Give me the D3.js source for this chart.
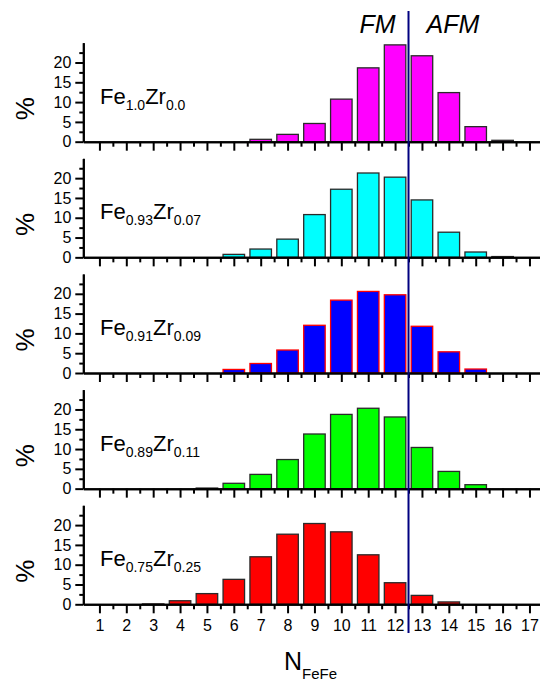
<!DOCTYPE html>
<html>
<head>
<meta charset="utf-8">
<script src="https://cdn.jsdelivr.net/npm/d3@7/dist/d3.min.js"></script>
<style>
  html, body { margin: 0; padding: 0; background: #fff; }
  svg { display: block; font-family: "Liberation Sans", Arial, sans-serif; }
</style>
</head>
<body>
<svg id="chart" width="540" height="681"></svg>
<script>
// ---- data ----
const nValues = [1,2,3,4,5,6,7,8,9,10,11,12,13,14,15,16,17];
const xTickLabels = ["1","2","3","4","5","6","7","8","9","10","11","12","13","14","15","16","17"];
const yTickValues = [0,5,10,15,20];
const yMinorTicks = [2.5,7.5,12.5,17.5,22.5];

const feSub = ["1.0","0.93","0.91","0.89","0.75"];
const zrSub = ["0.0","0.07","0.09","0.11","0.25"];

const seriesFe100 = [0,0,0,0,0,0,0.6,1.85,4.6,10.75,18.65,24.45,21.7,12.4,3.8,0.35,0];
const seriesFe093 = [0,0,0,0,0,0.75,2.1,4.6,10.8,17.2,21.3,20.25,14.5,6.35,1.35,0.2,0];
const seriesFe091 = [0,0,0,0,0,0.9,2.4,5.8,12.05,18.4,20.6,19.75,11.8,5.35,1.0,0,0];
const seriesFe089 = [0,0,0,0,0.15,1.35,3.6,7.35,13.8,18.75,20.3,18.1,10.4,4.35,1.0,0,0];
const seriesFe075 = [0,0,0.1,0.9,2.7,6.3,12.0,17.7,20.4,18.3,12.5,5.45,2.25,0.6,0,0,0];

const seriesList = [seriesFe100, seriesFe093, seriesFe091, seriesFe089, seriesFe075];
const fillColors = ["#ff00ff","#00ffff","#0000ff","#00ff00","#ff0000"];
const strokeColors = ["#2a2a2a","#2a2a2a","#ff0000","#2a2a2a","#2a2a2a"];
const boundary = 12.5;

// ---- layout ----
const svg = d3.select("#chart");
const x = d3.scaleLinear().domain([0.4, 17.5]).range([83.3, 542.9]);
const panelZero = 141.7, panelStep = 115.65, panelH = 99;
const barHalf = 0.4;

seriesList.forEach((vals, i) => {
  const y0 = panelZero + i * panelStep;
  const y = d3.scaleLinear().domain([0, 25]).range([y0, y0 - panelH]);
  const g = svg.append("g");

  // bars
  g.selectAll("rect.bar")
    .data(vals.map((v, k) => ({n: nValues[k], v})).filter(d => d.v > 0))
    .join("rect")
    .attr("class", "bar")
    .attr("x", d => x(d.n - barHalf))
    .attr("width", d => x(d.n + barHalf) - x(d.n - barHalf))
    .attr("y", d => y(d.v))
    .attr("height", d => y(0) - y(d.v))
    .attr("fill", fillColors[i])
    .attr("stroke", strokeColors[i])
    .attr("stroke-width", 1.3);

  // x axis major
  g.append("g").attr("transform", `translate(0,${y0})`)
    .call(d3.axisBottom(x).tickValues(nValues).tickSize(9).tickSizeOuter(0).tickPadding(6)
      .tickFormat(i === seriesList.length - 1 ? ((d, k) => xTickLabels[k]) : ""));
  // x axis minor
  g.append("g").attr("transform", `translate(0,${y0})`)
    .call(d3.axisBottom(x).tickValues(nValues.map(n => n + 0.5).filter(v => v <= 17.5)).tickSize(5).tickSizeOuter(0).tickFormat(""));

  // y axis major
  g.append("g").attr("transform", `translate(${x(0.4)},0)`)
    .call(d3.axisLeft(y).tickValues(yTickValues).tickSize(8).tickSizeOuter(0).tickPadding(4));
  // y axis minor
  g.append("g").attr("transform", `translate(${x(0.4)},0)`)
    .call(d3.axisLeft(y).tickValues(yMinorTicks).tickSize(4).tickSizeOuter(0).tickFormat(""));

  // % label
  g.append("text")
    .attr("transform", `translate(34,${y0 - 33}) rotate(-90)`)
    .attr("text-anchor", "middle")
    .attr("font-size", 26)
    .text("%");

  // composition label
  const t = g.append("text")
    .attr("x", 100)
    .attr("y", y0 - 38)
    .attr("font-size", 22);
  t.append("tspan").text("Fe");
  t.append("tspan").attr("font-size", 14).attr("dy", 6).text(feSub[i]);
  t.append("tspan").attr("dy", -6).text("Zr");
  t.append("tspan").attr("font-size", 14).attr("dy", 6).text(zrSub[i]);
});

// axis styling
svg.selectAll(".domain").attr("stroke", "#000").attr("stroke-width", 2);
svg.selectAll(".tick line").attr("stroke", "#000").attr("stroke-width", 2);
svg.selectAll(".tick text").attr("font-size", 16).attr("fill", "#000")
  .attr("font-family", "'Liberation Sans', Arial, sans-serif");

// boundary line
svg.append("line")
  .attr("x1", x(boundary)).attr("x2", x(boundary))
  .attr("y1", 11).attr("y2", 633)
  .attr("stroke", "#000080").attr("stroke-width", 2);

// FM / AFM
svg.append("text").attr("x", x(boundary) - 13).attr("y", 33)
  .attr("text-anchor", "end").attr("font-size", 25).attr("font-style", "italic").text("FM");
svg.append("text").attr("x", x(boundary) + 18).attr("y", 33)
  .attr("text-anchor", "start").attr("font-size", 25).attr("font-style", "italic").text("AFM");

// x axis title
const xt = svg.append("text").attr("x", 284).attr("y", 670).attr("font-size", 25);
xt.append("tspan").text("N");
xt.append("tspan").attr("font-size", 15).attr("dy", 9).text("FeFe");
</script>
</body>
</html>
